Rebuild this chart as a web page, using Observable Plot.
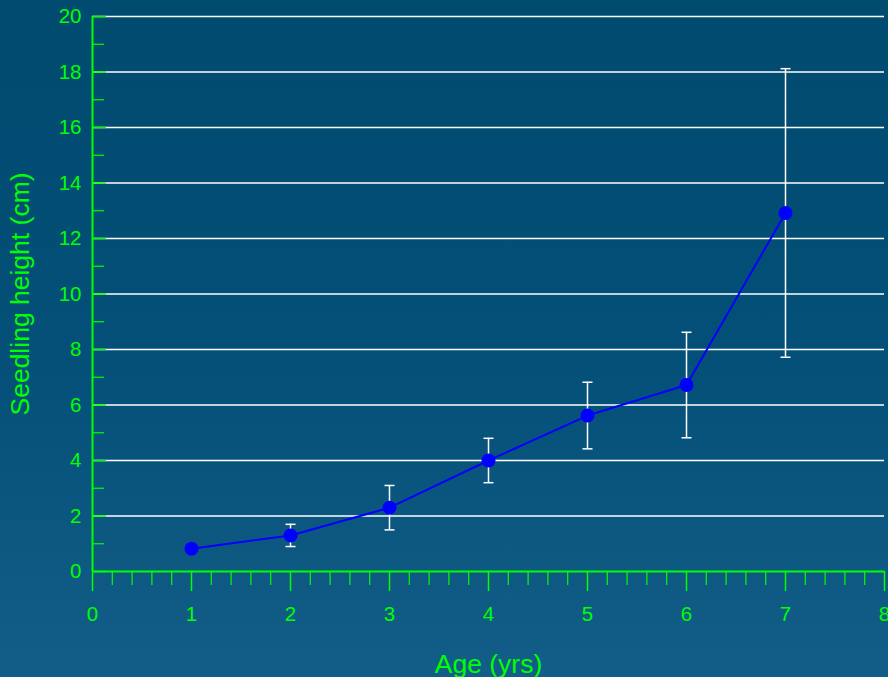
<!DOCTYPE html>
<html>
<head>
<meta charset="utf-8">
<script src="https://cdn.jsdelivr.net/npm/d3@7"></script>
<script src="https://cdn.jsdelivr.net/npm/@observablehq/plot@0.6"></script>
<style>
  html, body { margin: 0; padding: 0; }
  body {
    width: 888px; height: 677px; overflow: hidden;
    background: linear-gradient(to bottom, #014a70 0%, #045078 55%, #125e88 100%);
    font-family: "Liberation Sans", Arial, sans-serif;
  }
  svg { display: block; }
</style>
</head>
<body>
<div id="chart"></div>
<script>
// Data
const ages = [1, 2, 3, 4, 5, 6, 7];
const heights = [0.82, 1.3, 2.3, 4.0, 5.62, 6.72, 12.92];
const errors = [0.12, 0.4, 0.8, 0.8, 1.2, 1.9, 5.2];
const xMajorTicks = [0, 1, 2, 3, 4, 5, 6, 7, 8];
const xMinorTicks = d3.range(0, 8.001, 0.2).filter(v => Math.abs(v - Math.round(v)) > 1e-6);
const yMajorTicks = [0, 2, 4, 6, 8, 10, 12, 14, 16, 18, 20];
const yMinorTicks = [1, 3, 5, 7, 9, 11, 13, 15, 17, 19];
const gridValues = [2, 4, 6, 8, 10, 12, 14, 16, 18, 20];

const data = ages.map((a, i) => ({age: a, h: heights[i], lo: heights[i] - errors[i], hi: heights[i] + errors[i]}));

const green = "#00ff00";
const W = 888, H = 677;
const mL = 92, mR = 4, mT = 16, mB = 106;
const frameW = W - mL - mR;

const capSymbol = {
  draw(context, size) {
    context.moveTo(-5, 0);
    context.lineTo(5, 0);
  }
};

const chart = Plot.plot({
  width: W,
  height: H,
  marginLeft: mL,
  marginRight: mR,
  marginTop: mT,
  marginBottom: mB,
  style: {background: "transparent", fontFamily: "'Liberation Sans', Arial, sans-serif", overflow: "visible"},
  x: {domain: [0, 8]},
  y: {domain: [0, 20]},
  marks: [
    // gridlines
    Plot.ruleY(gridValues, {stroke: "white", strokeWidth: 1.5}),
    // y-axis inward ticks
    Plot.ruleY(yMajorTicks, {stroke: green, strokeWidth: 1.5, insetRight: frameW - 14}),
    Plot.ruleY(yMinorTicks, {stroke: green, strokeWidth: 1.2, insetRight: frameW - 12}),
    // y axis labels
    Plot.axisY(yMajorTicks, {tickSize: 0, tickPadding: 11, fontSize: 20.5, color: green, label: null}),
    Plot.axisY({ticks: [], tickSize: 0, label: "Seedling height (cm)", labelAnchor: "center", labelArrow: false, labelOffset: 82, fontSize: 26.5, color: green}),
    // x axis ticks
    Plot.axisX(xMinorTicks, {tickSize: 14, stroke: green, strokeWidth: 1.2, text: null, label: null}),
    Plot.axisX(xMajorTicks, {tickSize: 20, tickPadding: 15, stroke: green, strokeWidth: 1.5, fontSize: 20.5, color: green, label: null}),
    Plot.axisX({ticks: [], tickSize: 0, label: "Age (yrs)", labelAnchor: "center", labelArrow: false, labelOffset: 101, fontSize: 26.5, color: green}),
    // axis lines
    Plot.ruleX([0], {stroke: green, strokeWidth: 2}),
    Plot.ruleY([0], {stroke: green, strokeWidth: 2}),
    // error bars
    Plot.ruleX(data, {x: "age", y1: "lo", y2: "hi", stroke: "white", strokeWidth: 1.5}),
    Plot.dot(data, {x: "age", y: "hi", symbol: capSymbol, stroke: "white", strokeWidth: 1.5, fill: "none"}),
    Plot.dot(data, {x: "age", y: "lo", symbol: capSymbol, stroke: "white", strokeWidth: 1.5, fill: "none"}),
    // line and points
    Plot.line(data, {x: "age", y: "h", stroke: "#0000ff", strokeWidth: 2}),
    Plot.dot(data, {x: "age", y: "h", r: 7, fill: "#0000ff", stroke: "none"})
  ]
});
document.getElementById("chart").appendChild(chart);
</script>
</body>
</html>
